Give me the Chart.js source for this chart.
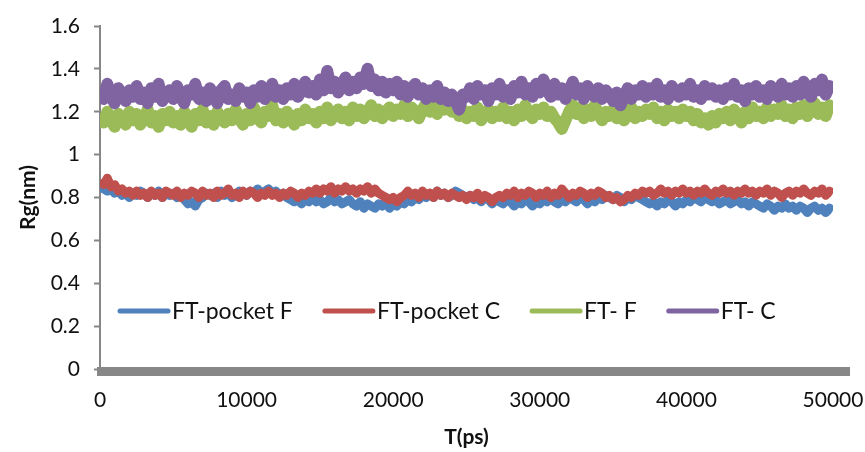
<!DOCTYPE html>
<html>
<head>
<meta charset="utf-8">
<script src="https://cdn.jsdelivr.net/npm/chart.js@4.4.1/dist/chart.umd.min.js"></script>
<style>
  html, body { margin: 0; padding: 0; background: #fff; }
  #wrap { width: 865px; height: 452px; }
</style>
</head>
<body>
<div id="wrap"><canvas id="rgChart" width="865" height="452"></canvas></div>
<script>
// Paso de muestreo (ps) entre puntos
const pasoTiempo = 250;

// Rg (nm), un valor cada 250 ps (0 .. 50000)
const pocketF = [
    0.85,0.84,0.83,0.84,0.82,0.83,0.81,0.82,0.80,0.82,
    0.81,0.83,0.82,0.80,0.82,0.81,0.83,0.80,0.82,0.81,
    0.82,0.80,0.81,0.79,0.77,0.78,0.76,0.79,0.80,0.82,
    0.81,0.82,0.80,0.83,0.81,0.82,0.80,0.81,0.83,0.82,
    0.81,0.83,0.82,0.84,0.82,0.83,0.84,0.82,0.83,0.81,
    0.82,0.80,0.79,0.78,0.79,0.77,0.79,0.78,0.80,0.78,
    0.79,0.77,0.78,0.80,0.78,0.79,0.77,0.78,0.79,0.77,
    0.76,0.78,0.75,0.77,0.76,0.75,0.77,0.76,0.78,0.75,
    0.77,0.76,0.78,0.77,0.79,0.78,0.80,0.79,0.81,0.80,
    0.82,0.80,0.83,0.81,0.82,0.80,0.81,0.83,0.82,0.81,
    0.80,0.81,0.79,0.80,0.78,0.80,0.79,0.77,0.79,0.78,
    0.77,0.79,0.78,0.76,0.78,0.77,0.79,0.78,0.76,0.78,
    0.77,0.79,0.78,0.80,0.78,0.77,0.79,0.78,0.80,0.79,
    0.78,0.80,0.79,0.77,0.79,0.78,0.80,0.79,0.81,0.80,
    0.79,0.81,0.80,0.78,0.80,0.79,0.81,0.80,0.79,0.78,
    0.77,0.78,0.76,0.78,0.77,0.79,0.78,0.76,0.78,0.77,
    0.79,0.78,0.80,0.79,0.78,0.80,0.79,0.78,0.79,0.77,
    0.78,0.79,0.77,0.78,0.79,0.77,0.78,0.76,0.78,0.77,
    0.76,0.75,0.77,0.76,0.74,0.76,0.75,0.77,0.75,0.76,
    0.74,0.76,0.75,0.73,0.75,0.76,0.74,0.75,0.73,0.75,0.74
];

const pocketC = [
    0.88,0.86,0.89,0.85,0.86,0.83,0.84,0.82,0.83,0.81,
    0.83,0.81,0.82,0.80,0.83,0.81,0.82,0.80,0.83,0.82,
    0.81,0.83,0.80,0.82,0.81,0.83,0.82,0.80,0.83,0.81,
    0.82,0.80,0.83,0.81,0.82,0.84,0.81,0.82,0.80,0.83,
    0.81,0.83,0.82,0.80,0.82,0.81,0.83,0.81,0.82,0.80,
    0.82,0.81,0.83,0.82,0.80,0.82,0.81,0.83,0.82,0.84,
    0.82,0.84,0.83,0.85,0.82,0.84,0.83,0.85,0.83,0.84,
    0.82,0.84,0.83,0.85,0.82,0.84,0.82,0.81,0.80,0.79,
    0.80,0.78,0.80,0.81,0.83,0.81,0.82,0.80,0.83,0.81,
    0.82,0.80,0.83,0.81,0.82,0.80,0.82,0.81,0.80,0.81,
    0.79,0.81,0.80,0.82,0.79,0.81,0.80,0.78,0.80,0.81,
    0.80,0.82,0.81,0.83,0.80,0.82,0.81,0.83,0.82,0.80,
    0.82,0.81,0.83,0.80,0.82,0.81,0.84,0.82,0.80,0.82,
    0.81,0.83,0.82,0.80,0.82,0.81,0.83,0.82,0.80,0.81,
    0.79,0.80,0.78,0.79,0.81,0.80,0.82,0.81,0.83,0.82,
    0.83,0.81,0.82,0.84,0.82,0.83,0.81,0.83,0.82,0.84,
    0.82,0.83,0.81,0.83,0.82,0.84,0.82,0.81,0.83,0.82,
    0.84,0.82,0.83,0.81,0.83,0.82,0.84,0.82,0.83,0.81,
    0.83,0.82,0.84,0.81,0.83,0.82,0.80,0.82,0.83,0.81,
    0.83,0.82,0.84,0.82,0.81,0.83,0.82,0.84,0.81,0.83,0.82
];

const ftF = [
    1.18,1.15,1.20,1.16,1.13,1.19,1.17,1.14,1.20,1.16,
    1.19,1.14,1.17,1.21,1.15,1.18,1.13,1.19,1.16,1.20,
    1.15,1.18,1.14,1.20,1.17,1.13,1.19,1.16,1.21,1.15,
    1.18,1.14,1.20,1.17,1.15,1.19,1.16,1.21,1.17,1.14,
    1.19,1.16,1.22,1.17,1.15,1.20,1.18,1.23,1.16,1.19,
    1.15,1.20,1.17,1.14,1.19,1.16,1.21,1.17,1.19,1.15,
    1.20,1.17,1.22,1.16,1.19,1.21,1.17,1.20,1.16,1.22,
    1.18,1.21,1.17,1.20,1.23,1.18,1.21,1.17,1.20,1.22,
    1.18,1.21,1.19,1.23,1.18,1.22,1.20,1.17,1.21,1.24,
    1.20,1.23,1.19,1.25,1.21,1.24,1.20,1.22,1.18,1.21,
    1.17,1.20,1.18,1.22,1.16,1.19,1.21,1.17,1.20,1.18,
    1.22,1.17,1.20,1.16,1.21,1.18,1.23,1.19,1.17,1.21,
    1.19,1.22,1.18,1.20,1.17,1.15,1.12,1.16,1.20,1.23,
    1.19,1.22,1.17,1.21,1.18,1.23,1.19,1.16,1.20,1.18,
    1.21,1.17,1.20,1.16,1.19,1.22,1.17,1.20,1.18,1.21,
    1.19,1.22,1.17,1.20,1.16,1.21,1.18,1.20,1.17,1.21,
    1.18,1.20,1.16,1.19,1.15,1.17,1.14,1.18,1.15,1.19,
    1.17,1.20,1.16,1.21,1.18,1.15,1.20,1.17,1.22,1.18,
    1.20,1.17,1.22,1.18,1.21,1.19,1.23,1.18,1.21,1.17,
    1.22,1.19,1.23,1.18,1.21,1.24,1.19,1.22,1.18,1.23,1.21
];

const ftC = [
    1.30,1.26,1.33,1.27,1.24,1.31,1.28,1.25,1.30,1.27,
    1.32,1.26,1.29,1.24,1.31,1.27,1.33,1.25,1.28,1.30,
    1.26,1.32,1.27,1.24,1.30,1.28,1.33,1.26,1.29,1.25,
    1.31,1.27,1.24,1.30,1.32,1.26,1.28,1.25,1.31,1.27,
    1.29,1.24,1.30,1.27,1.32,1.26,1.29,1.33,1.27,1.30,
    1.26,1.31,1.28,1.33,1.27,1.30,1.34,1.29,1.32,1.28,
    1.35,1.30,1.39,1.31,1.34,1.29,1.33,1.36,1.30,1.34,
    1.31,1.36,1.33,1.40,1.32,1.35,1.30,1.34,1.29,1.33,
    1.30,1.34,1.28,1.32,1.27,1.31,1.33,1.28,1.31,1.26,
    1.30,1.27,1.32,1.26,1.29,1.25,1.28,1.25,1.21,1.28,
    1.27,1.31,1.26,1.32,1.28,1.30,1.25,1.31,1.28,1.33,
    1.27,1.30,1.26,1.32,1.29,1.34,1.28,1.31,1.27,1.33,
    1.29,1.35,1.30,1.27,1.33,1.28,1.31,1.26,1.30,1.34,
    1.28,1.31,1.26,1.32,1.29,1.27,1.31,1.26,1.30,1.28,
    1.25,1.29,1.23,1.27,1.31,1.26,1.30,1.28,1.32,1.27,
    1.31,1.28,1.33,1.27,1.30,1.26,1.32,1.29,1.27,1.31,
    1.28,1.33,1.27,1.30,1.26,1.32,1.28,1.31,1.27,1.30,
    1.26,1.31,1.28,1.33,1.27,1.30,1.25,1.31,1.28,1.32,
    1.27,1.30,1.26,1.32,1.29,1.27,1.33,1.28,1.31,1.27,
    1.32,1.28,1.34,1.29,1.27,1.33,1.30,1.35,1.28,1.32,1.30
];

const nombres = ['FT-pocket F', 'FT-pocket C', 'FT- F', 'FT- C'];
const colores = ['#4F81BD', '#C0504D', '#9BBB59', '#8064A2'];
const grosores = [9, 9, 12, 12];
const ticksY = [0, 0.2, 0.4, 0.6, 0.8, 1, 1.2, 1.4, 1.6];
const ticksX = [0, 10000, 20000, 30000, 40000, 50000];
const posLeyenda = 0.27;

const tiempos = pocketF.map((v, i) => i * pasoTiempo);

// Eje horizontal gris grueso en y = 0
const ejeGrueso = {
    id: 'ejeGrueso',
    afterDraw(chart) {
        const {ctx, chartArea, scales} = chart;
        const y0 = scales.y.getPixelForValue(0);
        ctx.save();
        ctx.fillStyle = '#878787';
        ctx.fillRect(chartArea.left - 3, y0 - 2, chartArea.right - chartArea.left + 20, 9);
        ctx.restore();
    }
};

// Leyenda dentro del area de trazado
const leyendaInterna = {
    id: 'leyendaInterna',
    afterDraw(chart) {
        const {ctx, chartArea, scales} = chart;
        const yPos = scales.y.getPixelForValue(posLeyenda);
        let x = chartArea.left + 18;
        ctx.save();
        ctx.font = '23px Lato';
        ctx.textBaseline = 'middle';
        nombres.forEach((nombre, i) => {
            ctx.strokeStyle = colores[i];
            ctx.lineWidth = 5;
            ctx.lineCap = 'round';
            ctx.beginPath();
            ctx.moveTo(x + 2, yPos);
            ctx.lineTo(x + 50, yPos);
            ctx.stroke();
            x += 54;
            ctx.fillStyle = '#111';
            ctx.fillText(nombre, x, yPos);
            x += ctx.measureText(nombre).width + 30;
        });
        ctx.restore();
    }
};

const series = [pocketF, pocketC, ftF, ftC];

Chart.defaults.font.family = 'Lato';
Chart.defaults.color = '#111';

new Chart(document.getElementById('rgChart').getContext('2d'), {
    type: 'line',
    data: {
        labels: tiempos,
        datasets: series.map((datos, i) => ({
            label: nombres[i],
            data: datos,
            borderColor: colores[i],
            backgroundColor: colores[i],
            borderWidth: grosores[i],
            borderJoinStyle: 'round',
            borderCapStyle: 'butt',
            pointRadius: 0,
            tension: 0,
            order: 4 - i
        }))
    },
    options: {
        responsive: false,
        animation: false,
        devicePixelRatio: 1,
        layout: { autoPadding: false, padding: { top: 26, right: 32, left: 0, bottom: 0 } },
        plugins: {
            legend: { display: false },
            tooltip: { enabled: false }
        },
        scales: {
            x: {
                type: 'linear',
                min: 0,
                max: 50000,
                afterFit: (s) => { s.height = 83; s.paddingLeft = 0; s.paddingRight = 0; },
                afterBuildTicks: (s) => { s.ticks = ticksX.map(v => ({ value: v })); },
                grid: { display: false },
                border: { display: false },
                ticks: {
                    padding: 11,
                    maxRotation: 0,
                    font: { size: 21 },
                    callback: (v) => String(v)
                },
                title: {
                    display: true,
                    text: 'T(ps)',
                    font: { size: 21, weight: 'bold' },
                    padding: { top: 0, bottom: 2 }
                }
            },
            y: {
                min: 0,
                max: 1.6,
                afterFit: (s) => { s.width = 100; s.paddingTop = 0; s.paddingBottom = 0; },
                afterBuildTicks: (s) => { s.ticks = ticksY.map(v => ({ value: v })); },
                grid: {
                    drawOnChartArea: false,
                    drawTicks: true,
                    tickLength: 6,
                    tickWidth: 2,
                    color: '#868686'
                },
                border: { display: true, color: '#868686', width: 2 },
                ticks: {
                    padding: 14,
                    font: { size: 21 },
                    callback: (v) => String(Number(v.toFixed(1)))
                },
                title: {
                    display: true,
                    text: 'Rg(nm)',
                    font: { size: 21, weight: 'bold' },
                    padding: { top: 16, bottom: 0 }
                }
            }
        }
    },
    plugins: [ejeGrueso, leyendaInterna]
});
</script>
</body>
</html>
